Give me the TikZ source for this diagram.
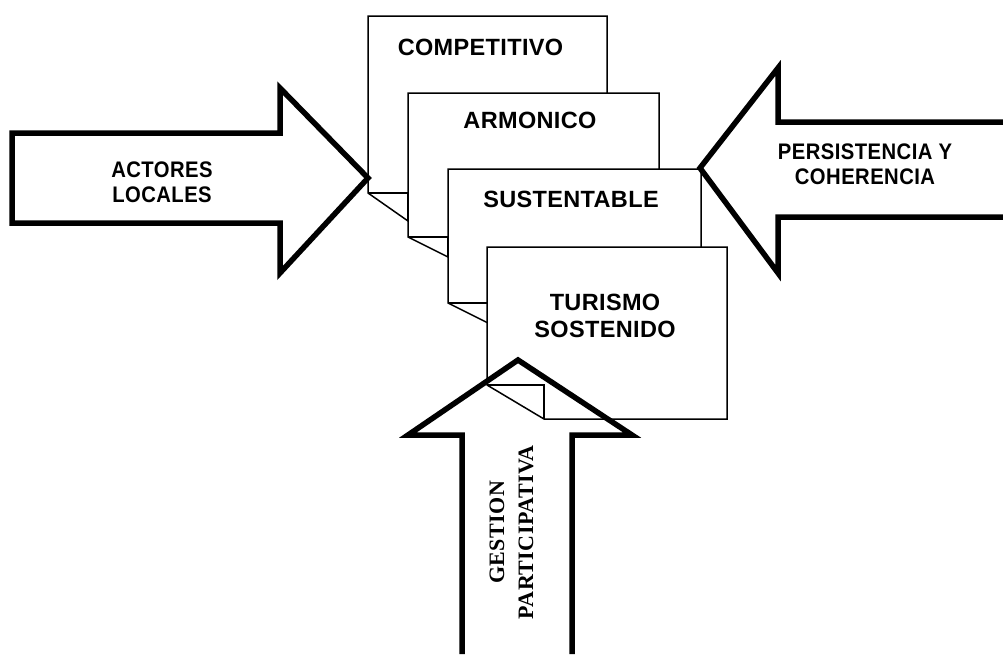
\documentclass[tikz,border=0pt]{standalone}
\usepackage{fontspec}
\setmainfont{Liberation Sans}
\newfontfamily\gestionfont{Liberation Serif}
\newcommand\mycard[6]{%
  \draw[card] (#1,#2) -- (#3,#2) -- (#3,#4) -- ({#1+#5},#4) -- (#1,{#4-#6}) -- cycle;
  \draw[flap] (#1,{#4-#6}) -- ({#1+#5},{#4-#6}) -- ({#1+#5},#4);
}
\begin{document}
\begin{tikzpicture}[x=1pt,y=-1pt,
  card/.style={draw=black, line width=1.5pt, fill=white, line join=miter},
  flap/.style={draw=black, line width=1.1pt},
  bigarrow/.style={draw=black, line width=5.5pt, line join=miter, miter limit=10},
  cardtext/.style={font=\fontsize{23.5}{27}\selectfont\bfseries\addfontfeatures{LetterSpace=1.5}, inner sep=0pt, align=center},
  sidetext/.style={font=\fontsize{22.5}{24.5}\selectfont\bfseries\addfontfeatures{FakeStretch=0.9,LetterSpace=2}, inner sep=0pt, align=center},
  vertext/.style={font=\gestionfont\fontsize{22}{29}\selectfont\bfseries\addfontfeatures{LetterSpace=2}, inner sep=0pt, align=center, rotate=90}
]
\useasboundingbox (0,0) rectangle (1003,654);
% stacked cards
\mycard{368}{16}{607}{221}{40}{28}
\mycard{408}{93}{659}{257}{40}{20}
\mycard{448}{169}{701}{323}{40}{20}
\mycard{487}{247}{727}{419}{57}{34}
\node[cardtext] (c1) at (480.5,47) {COMPETITIVO};
\node[cardtext] (c2) at (530,120) {ARMONICO};
\node[cardtext] (c3) at (571,199.5) {SUSTENTABLE};
\node[cardtext] (c4) at (605,315.5) {TURISMO\\SOSTENIDO};
% left arrow
\draw[bigarrow] (12,133) -- (280,133) -- (280,88) -- (368,178) -- (280,273) -- (280,223) -- (12,223) -- cycle;
% right arrow (open at right edge)
\draw[bigarrow] (1003,122) -- (778,122) -- (778,68) -- (700,168) -- (778,273) -- (778,217) -- (1003,217);
% bottom arrow (open at bottom edge)
\draw[bigarrow] (462,654) -- (462,435) -- (408,435) -- (518,360) -- (632,435) -- (572,435) -- (572,654);
\node[sidetext] (actores) at (162,182) {ACTORES\\LOCALES};
\node[sidetext] (persist) at (865,164) {PERSISTENCIA Y\\COHERENCIA};
\node[vertext] (gestion) at (511.5,532.5) {GESTION\\PARTICIPATIVA};
\end{tikzpicture}
\end{document}
